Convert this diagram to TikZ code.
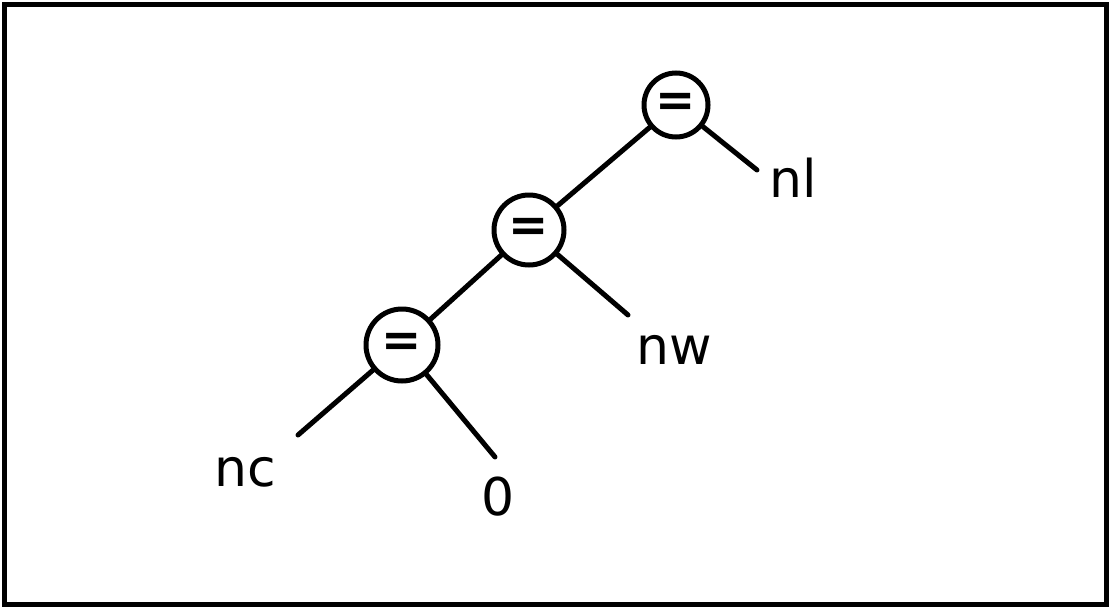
\documentclass[tikz,border=0pt]{standalone}
\usepackage{fontspec}
\setmainfont{DejaVu Sans}
\begin{document}
\begin{tikzpicture}[x=1pt,y=-1pt,
  op/.style={circle, draw, line width=5pt, inner sep=0pt, font=\bfseries\fontsize{48}{48}\selectfont},
  branch/.style={line width=5pt, line cap=round},
  leaf/.style={inner sep=0pt, font=\fontsize{52}{52}\selectfont}]
  % frame
  \useasboundingbox (0,0) rectangle (1110,608);
  \draw[line width=5pt] (4,4) rectangle (1106,604.5);

  % operator nodes
  \node[op, minimum size=64pt] (top) at (676,105) {=};
  \node[op, minimum size=70pt] (mid) at (529,230) {=};
  \node[op, minimum size=72pt] (low) at (402,345) {=};

  % free ends of the leaf branches
  \coordinate (nlend) at (757,170);
  \coordinate (nwend) at (628,315);
  \coordinate (ncend) at (298,435);
  \coordinate (zend) at (495,457);

  % leaf labels
  \node[leaf] (nl) at (793,178) {nl};
  \node[leaf] (nw) at (674,350) {nw};
  \node[leaf] (nc) at (245,472) {nc};
  \node[leaf] (z) at (498,497) {0};

  % branches
  \draw[branch] (top) -- (nlend);
  \draw[branch] (mid) -- (top);
  \draw[branch] (mid) -- (nwend);
  \draw[branch] (low) -- (mid);
  \draw[branch] (low) -- (ncend);
  \draw[branch] (low) -- (zend);
\end{tikzpicture}
\end{document}
